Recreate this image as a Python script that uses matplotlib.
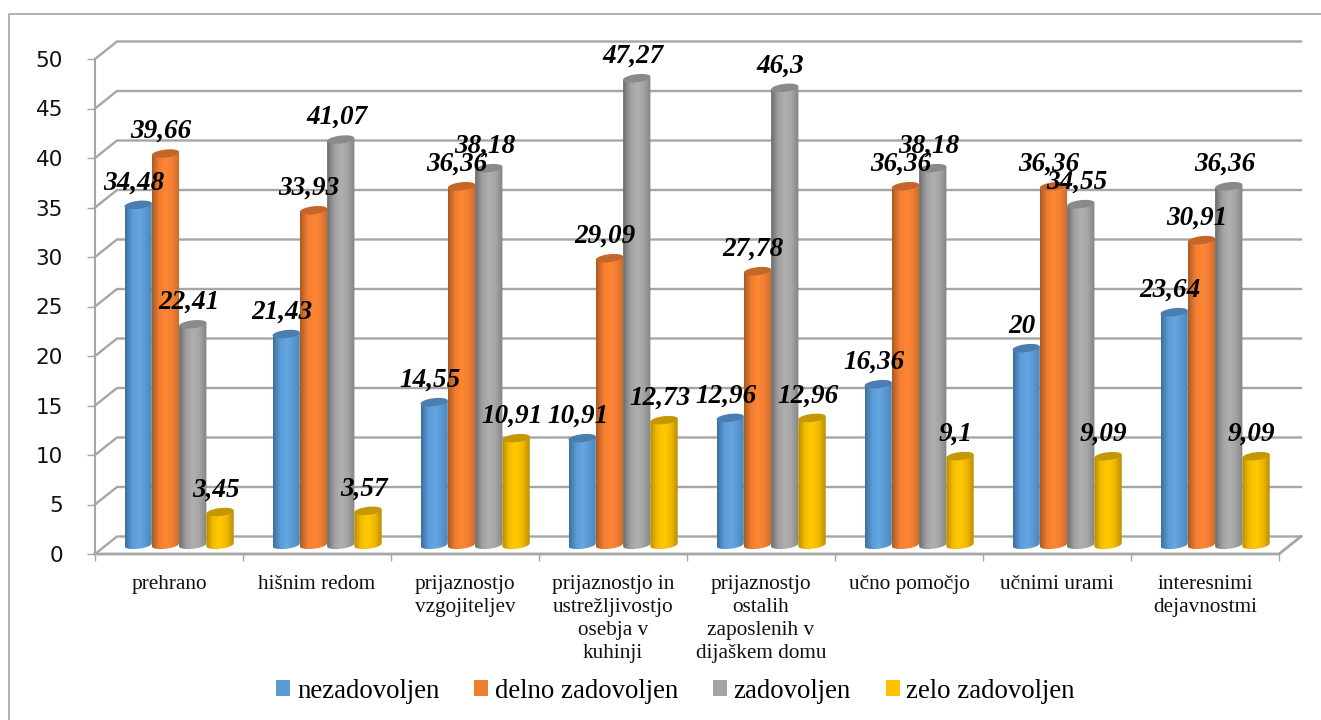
import numpy as np
import matplotlib
matplotlib.use("Agg")
import matplotlib.pyplot as plt
from matplotlib.colors import LinearSegmentedColormap
from matplotlib.patches import Patch, PathPatch, Polygon
from matplotlib.path import Path

categories = ["prehrano", "hišnim redom", "prijaznostjo\nvzgojiteljev",
              "prijaznostjo in\nustrežljivostjo\nosebja v\nkuhinji",
              "prijaznostjo\nostalih\nzaposlenih v\ndijaškem domu",
              "učno pomočjo", "učnimi urami", "interesnimi\ndejavnostmi"]
nezadovoljen = [34.48, 21.43, 14.55, 10.91, 12.96, 16.36, 20, 23.64]
delno_zadovoljen = [39.66, 33.93, 36.36, 29.09, 27.78, 36.36, 36.36, 30.91]
zadovoljen = [22.41, 41.07, 38.18, 47.27, 46.3, 38.18, 34.55, 36.36]
zelo_zadovoljen = [3.45, 3.57, 10.91, 12.73, 12.96, 9.1, 9.09, 9.09]
series_names = ["nezadovoljen", "delno zadovoljen", "zadovoljen", "zelo zadovoljen"]
series_values = [nezadovoljen, delno_zadovoljen, zadovoljen, zelo_zadovoljen]
y_ticks = [0, 5, 10, 15, 20, 25, 30, 35, 40, 45, 50]

W, H = 1321, 720
legend_colors = ["#5b9bd5", "#ed7d31", "#a5a5a5", "#ffc000"]
gradients = [["#3f6f9c", "#5a9ad6", "#64a6e4", "#5a98d0", "#4a82b4"],
             ["#a85a22", "#f07c30", "#ff8734", "#f07e34", "#c96a28"],
             ["#6c6c6c", "#a0a0a0", "#b0b0b0", "#a4a4a4", "#848484"],
             ["#b58c00", "#f5bd00", "#ffca00", "#f0b800", "#b98f00"]]
top_colors = ["#4a7eae", "#c4652a", "#8a8a8a", "#c49800"]
grid_color = "#a6a6a6"

plt.rcParams["font.family"] = ["DejaVu Sans"]
fig = plt.figure(figsize=(W / 100, H / 100), dpi=100)
fig.patch.set_facecolor("white")

# chart frame: left and top edges only
fig.add_artist(plt.Line2D([9 / W, 9 / W, 1], [0, 1 - 14 / H, 1 - 14 / H],
                          color="#b0b0b0", lw=1.4))

ax = fig.add_axes([95 / W, 1 - 554 / H, (1279 - 95) / W, (554 - 59) / H])
ax.set_xlim(0, len(categories))
ax.set_ylim(0, 50)
ax.patch.set_alpha(0)

px_x = len(categories) / (1279 - 95)
px_y = 50 / (554 - 59)
dx, dy = 22 * px_x, 17.5 * px_y

for spine in ["top", "right", "bottom"]:
    ax.spines[spine].set_visible(False)
ax.spines["left"].set_color(grid_color)
ax.spines["left"].set_linewidth(1.5)

# back wall, side wall and floor
for t in y_ticks:
    ax.plot([0, dx, len(categories) + dx], [t, t + dy, t + dy],
            color=grid_color, lw=1.7, clip_on=False, zorder=1, solid_joinstyle="miter")
ax.plot([0, len(categories), len(categories) + dx], [0, 0, dy], color=grid_color, lw=2.0,
        clip_on=False, zorder=1, solid_joinstyle="miter")

ax.set_yticks(y_ticks)
ax.set_yticklabels([str(t) for t in y_ticks], fontsize=15.5, color="#111111")
ax.tick_params(axis="y", length=6, width=1.0, color=grid_color, pad=17)
ax.set_xticks(np.arange(len(categories) + 1), minor=True)
ax.tick_params(axis="x", which="minor", length=5, width=1.0, color=grid_color)
ax.set_xticks(np.arange(len(categories)) + 0.5)
ax.set_xticklabels(categories, fontfamily="Liberation Serif", fontsize=15.3, color="#111111",
                   linespacing=1.3)
ax.tick_params(axis="x", which="major", length=0, pad=15)

bar_w = 27.3 * px_x
start = 29.5 * px_x
base_bottom = 9.2 * px_y
base_top = 7.8 * px_y
ell_h = 8.0 * px_y
tilt = 3.0 * px_y / (27.3 * px_x)  # rise of the ellipses across one bar
theta_low = np.linspace(np.pi, 2 * np.pi, 40)
theta_all = np.linspace(0, 2 * np.pi, 80)

for s, values in enumerate(series_values):
    cmap = LinearSegmentedColormap.from_list(f"c{s}", gradients[s])
    grad = np.linspace(0, 1, 64).reshape(1, -1)
    for i, v in enumerate(values):
        x0 = i + start + s * bar_w
        cx = x0 + bar_w / 2
        top = base_top + v
        ex = cx + bar_w / 2 * np.cos(theta_low)
        ey = base_bottom + ell_h / 2 * np.sin(theta_low) + tilt * (ex - cx)
        left_top = top - tilt * bar_w / 2
        right_top = top + tilt * bar_w / 2
        verts = [(x0, left_top)] + list(zip(ex, ey)) + [(x0 + bar_w, right_top), (x0, left_top)]
        codes = [Path.MOVETO] + [Path.LINETO] * (len(verts) - 2) + [Path.CLOSEPOLY]
        clip = PathPatch(Path(verts, codes), transform=ax.transData, fc="none", ec="none")
        ax.add_patch(clip)
        z = 3 + s * 0.1 + i
        im = ax.imshow(grad, cmap=cmap, aspect="auto", origin="lower", interpolation="bilinear",
                       extent=(x0, x0 + bar_w, 0, right_top + 1), zorder=z)
        im.set_clip_path(clip)
        tx = cx + bar_w / 2 * np.cos(theta_all)
        ty = top + ell_h / 2 * np.sin(theta_all) + tilt * (tx - cx)
        ax.add_patch(Polygon(np.column_stack([tx, ty]), closed=True, fc=top_colors[s], ec="none",
                             zorder=z))

ax.set_xlim(0, len(categories))
ax.set_ylim(0, 50)

for s, values in enumerate(series_values):
    for i, v in enumerate(values):
        cx = i + start + (s + 0.5) * bar_w
        ax.annotate(str(v).replace(".", ","), (cx, base_top + v), xytext=(-3, 15.8),
                    textcoords="offset points", ha="center", va="center",
                    fontfamily="Liberation Serif", fontsize=19.5, fontweight="bold", fontstyle="italic",
                    color="#000000", zorder=50, annotation_clip=False)

handles = [Patch(fc=c, ec="none") for c in legend_colors]
fig.legend(handles, series_names, loc="center", bbox_to_anchor=(675.5 / W, 1 - 691 / H), ncol=4,
           frameon=False, borderpad=0, borderaxespad=0, handlelength=0.52, handleheight=0.52,
           handletextpad=0.25, columnspacing=1.3,
           prop={"family": "Liberation Serif", "size": 19.3})

fig.savefig("out.png", dpi=100)
